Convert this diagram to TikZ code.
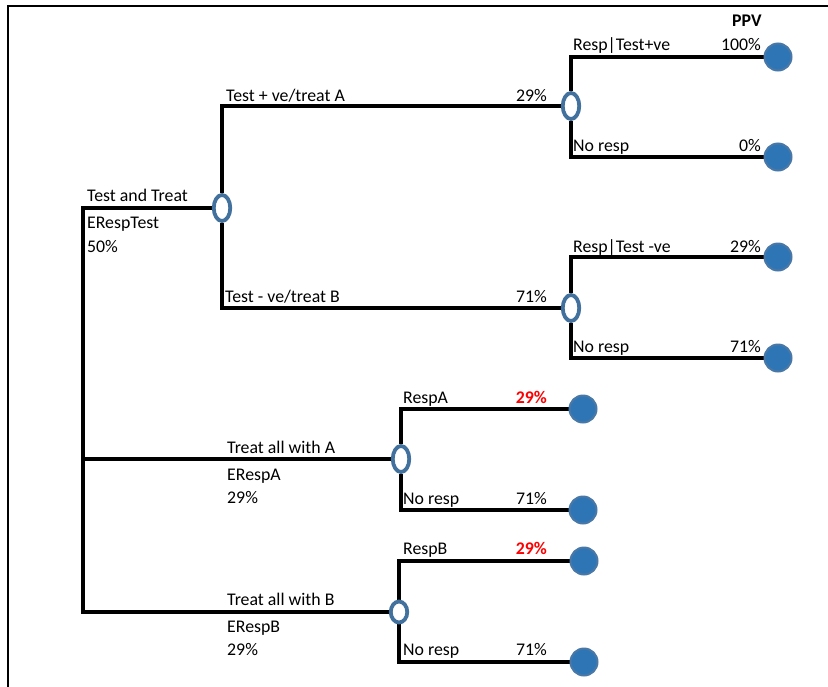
\documentclass[tikz,border=0pt]{standalone}
\usepackage{fontspec}
\setmainfont{Carlito}
\usetikzlibrary{shapes.geometric,backgrounds}
\definecolor{chanceblue}{HTML}{41719C}
\definecolor{leaffill}{HTML}{2E75B6}
\definecolor{leafedge}{HTML}{4A78A6}
\definecolor{hotred}{HTML}{FF0000}
\tikzset{
  treeline/.style={line width=3.2pt, black},
  chance/.style={ellipse, draw=chanceblue, fill=white, line width=3.8pt,
    inner sep=0pt, minimum width=16.5pt, minimum height=26pt},
  smallchance/.style={chance, minimum height=21pt},
  leaf/.style={circle, draw=leafedge, fill=leaffill, line width=2pt,
    inner sep=0pt, minimum size=27pt},
  lbl/.style={inner sep=0pt, anchor=base west, font=\fontsize{17.8}{20}\selectfont},
  val/.style={lbl, anchor=base east},
  redval/.style={val, text=hotred, font=\fontsize{17.8}{20}\selectfont\bfseries},
}
\begin{document}
\begin{tikzpicture}[x=1pt, y=-1pt]
\useasboundingbox (0,0) rectangle (828,686);

% outer frame
\draw[line width=2pt] (8,690) -- (8,6) -- (832,6);

% root corners
\coordinate (rt) at (83,208);
\coordinate (rb) at (83,612);

% chance nodes
\node[chance] (c1) at (222,208) {};
\node[chance] (c2) at (571,106) {};
\node[chance] (c3) at (571,308) {};
\node[chance] (c4) at (401,459) {};
\node[smallchance] (c5) at (399,612) {};

% terminal nodes
\node[leaf] (t1) at (778,57) {};
\node[leaf] (t2) at (778,157) {};
\node[leaf] (t3) at (778,257) {};
\node[leaf] (t4) at (778,358) {};
\node[leaf] (t5) at (583,409) {};
\node[leaf] (t6) at (583,510) {};
\node[leaf] (t7) at (584,561) {};
\node[leaf] (t8) at (584,662) {};

% branches
\begin{scope}[on background layer]
  \draw[treeline] (c1) -- (rt) -- (rb) -- (c5);
  \draw[treeline] (c4) -- (c4 -| rt);
  \draw[treeline] (c1) |- (c2);
  \draw[treeline] (c1) |- (c3);
  \draw[treeline] (c2) |- (t1);
  \draw[treeline] (c2) |- (t2);
  \draw[treeline] (c3) |- (t3);
  \draw[treeline] (c3) |- (t4);
  \draw[treeline] (c4) |- (t5);
  \draw[treeline] (c4) |- (t6);
  \draw[treeline] (c5) |- (t7);
  \draw[treeline] (c5) |- (t8);
\end{scope}

% column heading
\node[lbl, font=\fontsize{17.8}{20}\selectfont\bfseries] (ppv) at (732,26) {PPV};

% root labels
\node[lbl] (l0a) at (87,201) {Test and Treat};
\node[lbl] (l0b) at (87,228) {ERespTest};
\node[lbl] (l0c) at (87,252) {50\%};

% test-and-treat branches
\node[lbl] (l1) at (226,101) {Test + ve/treat A};
\node[val] (v1) at (547,101) {29\%};
\node[lbl] (l2) at (225,302) {Test - ve/treat B};
\node[val] (v2) at (547,302) {71\%};

\node[lbl] (l3) at (573,50) {Resp|Test+ve};
\node[val] (v3) at (761,50) {100\%};
\node[lbl] (l4) at (573,151) {No resp};
\node[val] (v4) at (761,151) {0\%};
\node[lbl] (l5) at (573,252) {Resp|Test -ve};
\node[val] (v5) at (761,252) {29\%};
\node[lbl] (l6) at (573,352) {No resp};
\node[val] (v6) at (761,352) {71\%};

% treat all with A
\node[lbl] (l7a) at (227,453) {Treat all with A};
\node[lbl] (l7b) at (227,480) {ERespA};
\node[lbl] (l7c) at (227,503) {29\%};
\node[lbl] (l8) at (403,403) {RespA};
\node[redval] (v8) at (547,403) {29\%};
\node[lbl] (l9) at (403,504) {No resp};
\node[val] (v9) at (547,504) {71\%};

% treat all with B
\node[lbl] (l10a) at (227,605) {Treat all with B};
\node[lbl] (l10b) at (227,632) {ERespB};
\node[lbl] (l10c) at (227,655) {29\%};
\node[lbl] (l11) at (403,554) {RespB};
\node[redval] (v11) at (547,554) {29\%};
\node[lbl] (l12) at (403,655) {No resp};
\node[val] (v12) at (547,655) {71\%};
\end{tikzpicture}
\end{document}
